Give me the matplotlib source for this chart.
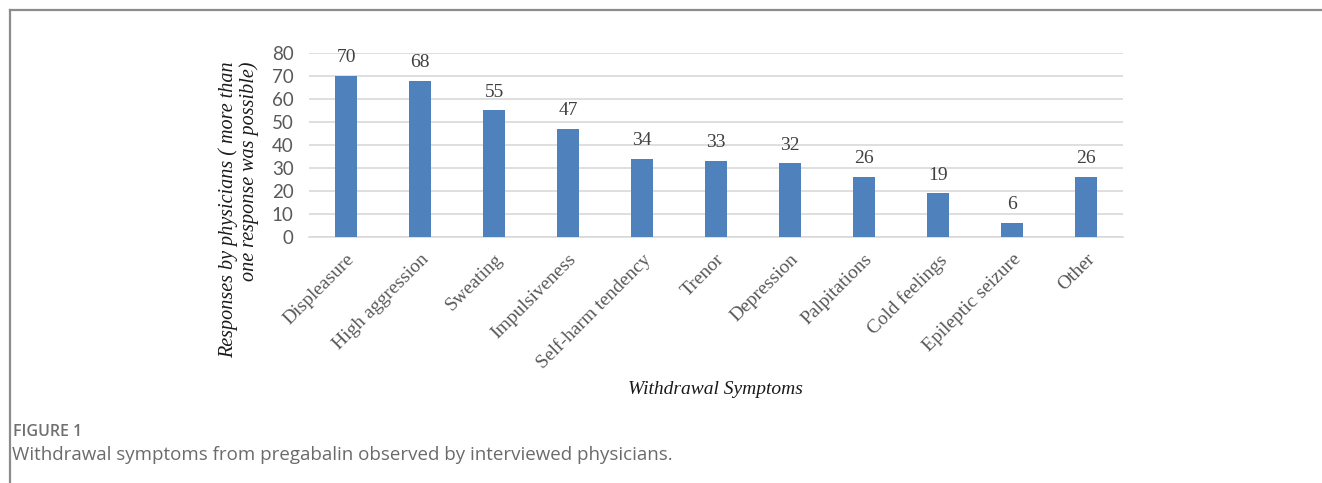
import matplotlib.pyplot as plt
from matplotlib.lines import Line2D

symptoms = ['Displeasure', 'High aggression', 'Sweating', 'Impulsiveness',
            'Self-harm tendency', 'Trenor', 'Depression', 'Palpitations',
            'Cold feelings', 'Epileptic seizure', 'Other']
responses = [70, 68, 55, 47, 34, 33, 32, 26, 19, 6, 26]
yticks = [0, 10, 20, 30, 40, 50, 60, 70, 80]

W, H = 1322, 483
fig = plt.figure(figsize=(W / 100, H / 100), dpi=100)
ax = fig.add_axes([309 / W, 1 - 237 / H, 814 / W, 184 / H])

x = range(len(symptoms))
ax.bar(x, responses, width=0.31, color='#4f81bd', zorder=3)
for i, v in zip(x, responses):
    ax.annotate(str(v), (i, v), xytext=(0, 7), textcoords='offset points',
                ha='center', va='bottom', family='Liberation Serif',
                fontsize=14, color='#404040')

ax.set_xlim(-0.5, len(symptoms) - 0.5)
ax.set_ylim(0, 80)
ax.set_yticks(yticks)
ax.set_yticklabels([str(t) for t in yticks], family='Lato', fontsize=13.5, color='#595959')
ax.yaxis.grid(True, color='#d9d9d9', linewidth=1.2, zorder=0)
ax.set_xticks(list(x))
ax.set_xticklabels(symptoms, rotation=45, ha='right', rotation_mode='anchor',
                   family='Liberation Serif', fontsize=14, color='#595959')
ax.tick_params(axis='y', length=0, pad=11)
ax.tick_params(axis='x', length=0, pad=10)
for s in ['top', 'right', 'left']:
    ax.spines[s].set_visible(False)
ax.spines['bottom'].set_color('#d9d9d9')
ax.spines['bottom'].set_linewidth(1.2)

fig.text(239 / W, 1 - 210 / H,
         'Responses by physicians ( more than\none response was possible)',
         rotation=90, ha='center', va='center', multialignment='right',
         family='Liberation Serif', style='italic', fontsize=14.5,
         color='#1a1a1a', linespacing=1.1)

fig.text(715 / W, 1 - 390 / H, 'Withdrawal Symptoms', ha='center', va='center',
         family='Liberation Serif', style='italic', fontsize=14, color='#1a1a1a')

# caption
fig.text(13 / W, 1 - 432 / H, 'FIGURE 1', ha='left', va='center',
         family='Open Sans', fontsize=11.5, fontweight='semibold', color='#707070')
fig.text(12 / W, 1 - 455 / H,
         'Withdrawal symptoms from pregabalin observed by interviewed physicians.',
         ha='left', va='center', family='Open Sans', fontsize=13.5, color='#6b6b6b')

# frame
fig.add_artist(Line2D([10 / W, 10 / W], [0, 1 - 9.5 / H], transform=fig.transFigure,
                      color='#8c8c8c', linewidth=1.6))
fig.add_artist(Line2D([10 / W, 1], [1 - 9.5 / H, 1 - 9.5 / H], transform=fig.transFigure,
                      color='#8c8c8c', linewidth=1.6))

fig.savefig('out.png', dpi=100)
